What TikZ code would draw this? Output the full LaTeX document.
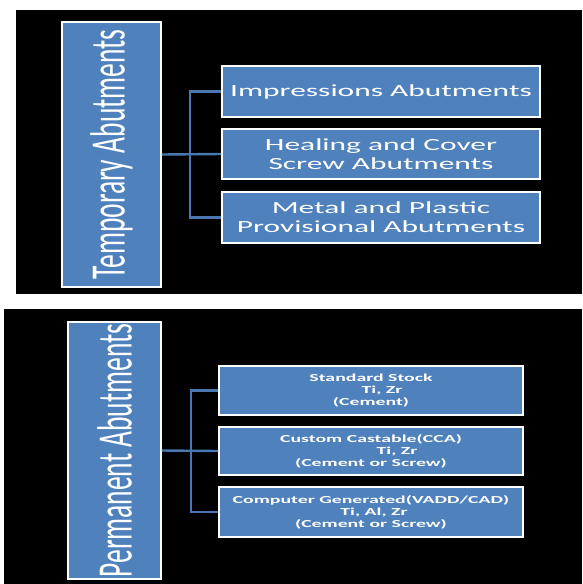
\documentclass[tikz,border=0pt]{standalone}
\usepackage{fontspec}
\setmainfont{Carlito}
\newfontfamily\widefont[FakeStretch=1.85]{Carlito}
\usetikzlibrary{calc}

\definecolor{slideblue}{HTML}{4F81BD}
\definecolor{linkblue}{HTML}{4A78B3}

\begin{document}
\begin{tikzpicture}[x=1pt,y=-1pt,
  mainbox/.style={draw=white,line width=1.6pt,fill=slideblue,text=white,
    inner sep=0pt,rotate=90,font=\fontsize{27.5}{30}\selectfont},
  subbox/.style={draw=white,line width=1.6pt,fill=slideblue,text=white,
    inner sep=0pt,align=center},
  topfont/.style={font=\widefont\fontsize{17}{19}\selectfont},
  lowfont/.style={font=\widefont\bfseries\fontsize{10.7}{12}\selectfont},
  link/.style={draw=linkblue,line width=2.4pt}]

% page and the two black slides
\fill[white] (0,0) rectangle (582,584);
\fill[black] (16,10) rectangle (582,294);
\fill[black] (4,309) rectangle (582,584);

% Temporary abutments
\node[mainbox,minimum width=265pt,minimum height=99pt] (temp) at (111.5,154.5)
  {\scalebox{1}[1.8]{Temporary Abutments}};

\node[subbox,topfont,minimum width=318pt,minimum height=51pt] (impr) at (381,91.5)
  {Impressions Abutments};
\node[subbox,topfont,minimum width=318pt,minimum height=50pt] (heal) at (381,154)
  {Healing and Cover\\Screw Abutments};
\node[subbox,topfont,minimum width=318pt,minimum height=51pt] (prov) at (381,217.5)
  {Metal and Plastic\\Provisional Abutments};

\coordinate (tjoin) at ($(temp.south)!0.47!(heal.west)$);
\draw[link] (temp.south) -- (heal.west);
\draw[link] (impr.west) -| (tjoin) |- (prov.west);

% Permanent abutments
\node[mainbox,minimum width=257pt,minimum height=93pt] (perm) at (114.5,450.5)
  {\scalebox{1}[1.8]{Permanent Abutments}};

\node[subbox,lowfont,minimum width=304pt,minimum height=49pt] (stock) at (371,390.5)
  {Standard Stock\\\hspace*{22pt}Ti, Zr\\(Cement)};
\node[subbox,lowfont,minimum width=304pt,minimum height=48pt] (cast) at (371,451)
  {Custom Castable(CCA)\\\hspace*{52pt}Ti, Zr\\(Cement or Screw)};
\node[subbox,lowfont,minimum width=304pt,minimum height=50pt] (cad) at (371,512)
  {Computer Generated(VADD/CAD)\\\hspace*{6pt}Ti, Al, Zr\\(Cement or Screw)};

\coordinate (pjoin) at ($(perm.south)!0.52!(cast.west)$);
\draw[link] (perm.south) -- (cast.west);
\draw[link] (stock.west) -| (pjoin) |- (cad.west);

\end{tikzpicture}
\end{document}
